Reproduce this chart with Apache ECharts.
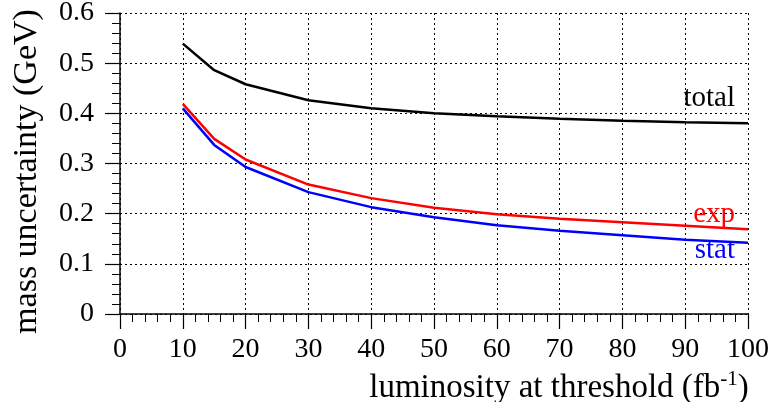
<!DOCTYPE html>
<html>
<head>
<meta charset="utf-8">
<script src="https://cdn.jsdelivr.net/npm/echarts@6/dist/echarts.min.js"></script>
<style>
  html, body { margin: 0; padding: 0; background: #fff; }
  #main { width: 773px; height: 402px; }
</style>
</head>
<body>
<div id="main"></div>
<script>
const lumi = [10, 15, 20, 30, 40, 50, 60, 70, 80, 90, 100];
const total = [0.539, 0.486, 0.458, 0.426, 0.410, 0.400, 0.394, 0.389, 0.385, 0.382, 0.380];
const exp = [0.419, 0.349, 0.308, 0.258, 0.231, 0.212, 0.199, 0.190, 0.183, 0.176, 0.169];
const stat = [0.410, 0.337, 0.293, 0.243, 0.213, 0.193, 0.177, 0.166, 0.157, 0.148, 0.142];

const font = 'Liberation Serif, Times New Roman, serif';
const chart = echarts.init(document.getElementById('main'));

const pairs = (ys) => lumi.map((x, i) => [x, ys[i]]);

// one line per series, label drawn at the right end
const line = (name, ys, color, dy) => ({
  name: name,
  type: 'line',
  data: pairs(ys),
  symbol: 'none',
  lineStyle: { color: color, width: 2.5 },
  endLabel: {
    show: true,
    formatter: '{a}',
    align: 'right',
    verticalAlign: 'middle',
    distance: 0,
    offset: [-13, dy],
    color: color,
    fontFamily: font,
    fontSize: 29
  },
  labelLayout: { hideOverlap: false },
  animation: false
});

const option = {
  animation: false,
  grid: { left: 120, right: 25, top: 13, bottom: 88, containLabel: false, outerBoundsMode: 'none' },
  xAxis: {
    type: 'value',
    min: 0, max: 100, interval: 10,
    name: 'luminosity at threshold (fb{sup|-1})',
    nameLocation: 'middle',
    nameGap: 48,
    nameTextStyle: {
      padding: [0, 0, 0, 250],
      color: '#000', fontFamily: font, fontSize: 33,
      rich: { sup: { fontSize: 21, verticalAlign: 'top', padding: [0, 0, 18, 0], fontFamily: font, color: '#000' } }
    },
    axisLine: { show: true, lineStyle: { color: '#000', width: 1.5 } },
    axisTick: { show: true, length: 15, lineStyle: { color: '#000', width: 1.2 } },
    minorTick: { show: true, splitNumber: 5, length: 8, lineStyle: { color: '#000', width: 1 } },
    axisLabel: { margin: 22, color: '#000', fontFamily: font, fontSize: 28, hideOverlap: false },
    splitLine: { show: true, lineStyle: { color: '#000', type: [2, 3], width: 1 } }
  },
  yAxis: {
    type: 'value',
    min: 0, max: 0.6, interval: 0.1,
    name: 'mass uncertainty (GeV)',
    nameLocation: 'middle',
    nameGap: 76,
    nameTextStyle: { padding: [0, 16, 0, 0], color: '#000', fontFamily: font, fontSize: 34 },
    axisLine: { show: true, lineStyle: { color: '#000', width: 1.5 } },
    axisTick: { show: true, length: 15, lineStyle: { color: '#000', width: 1.2 } },
    minorTick: { show: true, splitNumber: 5, length: 8, lineStyle: { color: '#000', width: 1 } },
    axisLabel: {
      margin: 26, color: '#000', fontFamily: font, fontSize: 28,
      formatter: (v) => (v === 0 ? '0' : v.toFixed(1))
    },
    splitLine: { show: true, lineStyle: { color: '#000', type: [2, 3], width: 1 } }
  },
  series: [
    line('total', total, '#000000', -25),
    line('exp', exp, '#ff0000', -15),
    line('stat', stat, '#0000ff', 8)
  ]
};

chart.setOption(option);
</script>
</body>
</html>
